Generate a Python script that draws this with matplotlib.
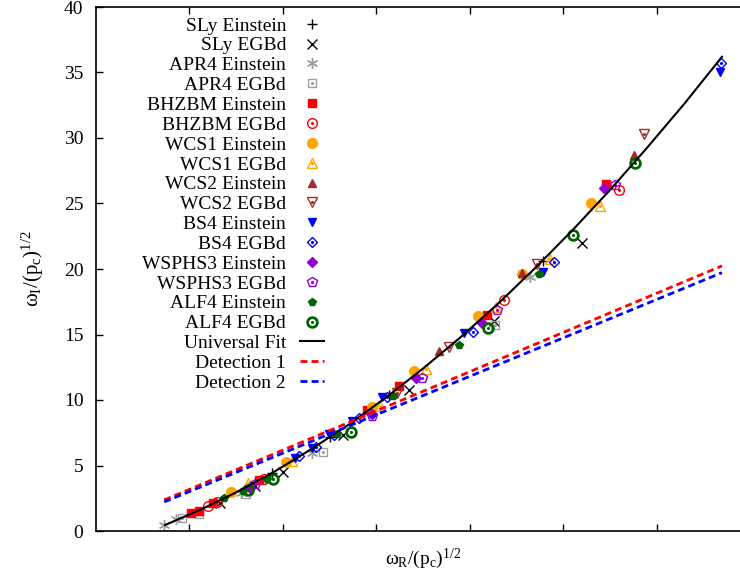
import numpy as np
import matplotlib
matplotlib.use("Agg")
import matplotlib.pyplot as plt

plt.rcParams['font.family'] = ['Liberation Serif', 'DejaVu Serif']
plt.rcParams['mathtext.fontset'] = 'custom'
plt.rcParams['mathtext.rm'] = 'Liberation Serif'
plt.rcParams['mathtext.it'] = 'Liberation Serif:italic'

# data (x = w_R/sqrt(p_c), y = w_I/sqrt(p_c))
sly_ein_x = [1.88, 2.50, 3.14, 4.78]
sly_ein_y = [4.40, 7.20, 10.4, 20.6]
sly_egb_x = [1.33, 1.70, 2.00, 2.64, 3.35, 4.26, 5.20]
sly_egb_y = [2.13, 3.44, 4.50, 7.30, 10.8, 16.0, 22.0]

apr4_ein_x = [0.73, 0.86, 1.55, 2.31, 4.64]
apr4_ein_y = [0.45, 0.90, 2.90, 5.96, 19.4]
apr4_egb_x = [0.92, 1.10, 1.61, 2.43, 4.27]
apr4_egb_y = [1.00, 1.30, 2.80, 6.00, 15.7]

bhz_ein_x = [1.02, 1.10, 1.25, 1.74, 2.90, 3.24, 4.18, 5.46]
bhz_ein_y = [1.40, 1.53, 2.10, 3.90, 9.24, 11.1, 16.5, 26.5]
bhz_egb_x = [1.20, 1.29, 1.80, 4.37, 5.60]
bhz_egb_y = [1.90, 2.20, 3.95, 17.6, 26.0]

wcs1_ein_x = [1.44, 2.03, 2.95, 3.40, 4.09, 4.56, 5.30]
wcs1_ein_y = [2.95, 5.27, 9.50, 12.2, 16.4, 19.6, 25.0]
wcs1_egb_x = [1.63, 2.10, 3.04, 3.53, 4.28, 4.86, 5.39]
wcs1_egb_y = [3.65, 5.35, 9.55, 12.4, 17.1, 20.8, 24.8]

wcs2_ein_x = [3.67, 4.56, 5.76]
wcs2_ein_y = [13.75, 19.7, 28.7]
wcs2_egb_x = [3.22, 3.78, 4.72, 5.87]
wcs2_egb_y = [10.5, 14.05, 20.4, 30.3]

bs4_ein_x = [2.13, 2.31, 2.49, 2.74, 3.06, 3.94, 4.78, 6.68]
bs4_ein_y = [5.60, 6.30, 7.40, 8.40, 10.2, 15.1, 19.8, 35.06]
bs4_egb_x = [2.17, 2.36, 2.55, 2.81, 3.12, 4.03, 4.90, 6.69]
bs4_egb_y = [5.70, 6.40, 7.35, 8.60, 10.2, 15.2, 20.5, 35.75]

wsp_ein_x = [1.65, 2.95, 3.42, 4.13, 5.44]
wsp_ein_y = [3.30, 8.90, 11.7, 15.9, 26.2]
wsp_egb_x = [1.70, 2.95, 3.49, 4.29, 5.56]
wsp_egb_y = [3.55, 8.80, 11.7, 16.9, 26.4]

alf4_ein_x = [1.37, 1.57, 1.83, 2.58, 3.18, 3.89, 4.74]
alf4_ein_y = [2.50, 3.06, 3.97, 7.40, 10.3, 14.2, 19.6]
alf4_egb_x = [1.63, 1.89, 2.73, 4.20, 5.11, 5.77]
alf4_egb_y = [3.13, 3.97, 7.56, 15.5, 22.6, 28.1]

# universal fit curve
fit_x = [0.74, 1.1, 1.5, 1.9, 2.3, 2.7, 3.1, 3.5, 3.9, 4.3, 4.7, 5.1, 5.5, 5.9, 6.3, 6.7]
fit_y = [0.46, 1.56, 2.95, 4.49, 6.23, 8.10, 10.17, 12.40, 14.78, 17.33,
         20.07, 22.96, 26.02, 29.27, 32.64, 36.2]

det1_x = [0.73, 6.70]
det1_y = [2.37, 20.24]
det2_x = [0.73, 6.70]
det2_y = [2.22, 19.72]

fig = plt.figure(figsize=(7.4, 5.77), dpi=100)
ax = fig.add_axes([96/740, 46/577, 654/740, 524/577])

grey = '#a0a0a0'
orange = '#ffa500'
brown = '#a52a2a'
purple = '#9400d3'
green = '#006400'
ms = 6

def pts(x, y, marker, color, label, filled=True, size=ms, mew=1.0, dot=False):
    """scatter one series, open markers get a small center dot like gnuplot"""
    h = ax.plot(x, y, ls='none', marker=marker, ms=size, mew=mew, color=color,
                mfc=color if filled else 'none', label=label)[0]
    if dot:
        d = ax.plot(x, y, ls='none', marker='.', ms=2.5, color=color)[0]
        return (h, d)
    return h

handles = []
labels = []

handles.append(pts(sly_ein_x, sly_ein_y, '+', 'black', 'SLy Einstein', size=7))
handles.append(pts(sly_egb_x, sly_egb_y, 'x', 'black', 'SLy EGBd', size=7))
handles.append(pts(apr4_ein_x, apr4_ein_y, (6, 2, 0), grey, 'APR4 Einstein', size=8))
handles.append(pts(apr4_egb_x, apr4_egb_y, 's', grey, 'APR4 EGBd', filled=False, dot=True))
handles.append(pts(bhz_ein_x, bhz_ein_y, 's', 'red', 'BHZBM Einstein'))
handles.append(pts(bhz_egb_x, bhz_egb_y, 'o', 'red', 'BHZBM EGBd', filled=False, dot=True, size=7))
handles.append(pts(wcs1_ein_x, wcs1_ein_y, 'o', orange, 'WCS1 Einstein', size=7))
handles.append(pts(wcs1_egb_x, wcs1_egb_y, '^', orange, 'WCS1 EGBd', filled=False, dot=True, size=7))
handles.append(pts(wcs2_ein_x, wcs2_ein_y, '^', brown, 'WCS2 Einstein'))
handles.append(pts(wcs2_egb_x, wcs2_egb_y, 'v', brown, 'WCS2 EGBd', filled=False, dot=True, size=7))
handles.append(pts(bs4_ein_x, bs4_ein_y, 'v', 'blue', 'BS4 Einstein'))
handles.append(pts(bs4_egb_x, bs4_egb_y, 'D', 'blue', 'BS4 EGBd', filled=False, dot=True, size=5.5))
handles.append(pts(wsp_ein_x, wsp_ein_y, 'D', purple, 'WSPHS3 Einstein', size=5))
handles.append(pts(wsp_egb_x, wsp_egb_y, 'p', purple, 'WSPHS3 EGBd', filled=False, dot=True, size=7))
handles.append(pts(alf4_ein_x, alf4_ein_y, 'p', green, 'ALF4 Einstein'))
handles.append(pts(alf4_egb_x, alf4_egb_y, 'o', green, 'ALF4 EGBd', filled=False, dot=True, size=7, mew=2))
labels = ['SLy Einstein', 'SLy EGBd', 'APR4 Einstein', 'APR4 EGBd', 'BHZBM Einstein',
          'BHZBM EGBd', 'WCS1 Einstein', 'WCS1 EGBd', 'WCS2 Einstein', 'WCS2 EGBd',
          'BS4 Einstein', 'BS4 EGBd', 'WSPHS3 Einstein', 'WSPHS3 EGBd',
          'ALF4 Einstein', 'ALF4 EGBd']

l1, = ax.plot(fit_x, fit_y, color='black', lw=1.5)
l2, = ax.plot(det1_x, det1_y, color='red', lw=2, dashes=(2.5, 1.5))
l3, = ax.plot(det2_x, det2_y, color='blue', lw=2, dashes=(2.5, 1.5))
handles += [l1, l2, l3]
labels += ['Universal Fit', 'Detection 1', 'Detection 2']

ax.set_xlim(0, 7)
ax.set_ylim(0, 40)
ax.set_xticks(np.arange(1, 7))
ax.set_xticklabels([])
ax.set_yticks(np.arange(0, 41, 5))
ax.tick_params(direction='in', length=5, width=1, top=True, right=True,
               labelsize=14, pad=9)
for s in ax.spines.values():
    s.set_linewidth(1.2)

ax.set_xlabel('ω$_\\mathrm{R}$/(p$_\\mathrm{c}$)$^{1/2}$', fontsize=14, labelpad=2)
ax.set_ylabel('ω$_\\mathrm{I}$/(p$_\\mathrm{c}$)$^{1/2}$', fontsize=15, labelpad=13)

leg = ax.legend(handles, labels, loc='upper right', markerfirst=False, frameon=False,
                fontsize=14, labelspacing=0.115, handlelength=1.25, handletextpad=0.7,
                borderpad=0, borderaxespad=0,
                bbox_to_anchor=(324/740, 1 - 17/577), bbox_transform=fig.transFigure)

plt.savefig('out.png', dpi=100)
